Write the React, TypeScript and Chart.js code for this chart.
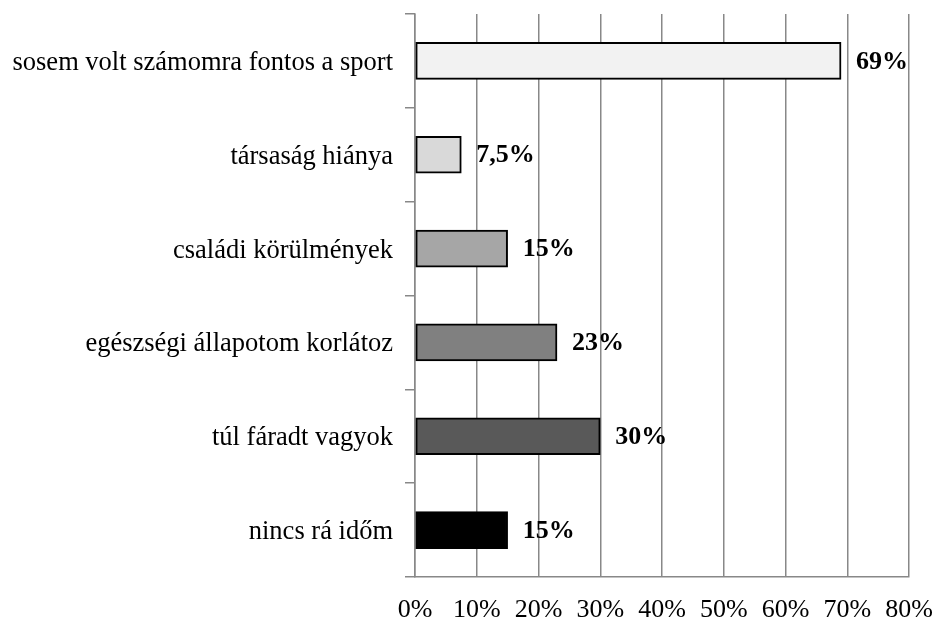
import React, { useEffect, useRef } from "react";
import { Chart, registerables } from "chart.js";

Chart.register(...registerables);

const categories = [
  "sosem volt számomra fontos a sport",
  "társaság hiánya",
  "családi körülmények",
  "egészségi állapotom korlátoz",
  "túl fáradt vagyok",
  "nincs rá időm",
];
const values = [69, 7.5, 15, 23, 30, 15];
const barColors = ["#f2f2f2", "#d9d9d9", "#a6a6a6", "#808080", "#595959", "#000000"];
const xTickStep = 10;
const xMax = 80;

const FONT = '"Liberation Serif", "Times New Roman", serif';

const valueLabelPlugin = {
  id: "valueLabels",
  afterDatasetsDraw(chart: any) {
    const ctx = chart.ctx;
    const meta = chart.getDatasetMeta(0);
    ctx.save();
    ctx.font = `bold 26px ${FONT}`;
    ctx.fillStyle = "#000";
    ctx.textAlign = "left";
    ctx.textBaseline = "middle";
    meta.data.forEach((el: any, i: number) => {
      const txt = String(values[i]).replace(".", ",") + "%";
      ctx.fillText(txt, el.x + 15, el.y + 1);
    });
    ctx.restore();
  },
};

export default function App() {
  const ref = useRef<HTMLCanvasElement>(null);
  useEffect(() => {
    document.body.style.margin = "0";
    const chart = new Chart(ref.current as HTMLCanvasElement, {
      type: "bar",
      data: {
        labels: categories,
        datasets: [
          {
            data: values,
            backgroundColor: barColors,
            borderColor: "#000",
            borderWidth: 2,
            borderSkipped: false,
            barThickness: 37,
          },
        ],
      },
      options: {
        indexAxis: "y",
        animation: false,
        responsive: false,
        maintainAspectRatio: false,
        layout: { padding: { left: 0, right: 25, top: 14, bottom: 0 } },
        plugins: { legend: { display: false }, tooltip: { enabled: false } },
        scales: {
          x: {
            min: 0,
            max: xMax,
            ticks: {
              stepSize: xTickStep,
              color: "#000",
              font: { family: FONT, size: 26 },
              padding: 18,
              callback: (v: any) => v + "%",
              maxRotation: 0,
            },
            grid: { color: "#888888", lineWidth: 1.5, drawTicks: false },
            border: { display: true, color: "#888888", width: 1.5 },
            afterFit: (s: any) => {
              s.height = 43;
              s.paddingLeft = 0;
              s.paddingRight = 0;
            },
          },
          y: {
            ticks: {
              color: "#000",
              font: { family: FONT, size: 26.5 },
              padding: 12,
              labelOffset: 2,
            },
            grid: {
              drawOnChartArea: false,
              drawTicks: true,
              tickLength: 10,
              offset: true,
              color: "#888888",
              lineWidth: 1.5,
            },
            border: { display: true, color: "#888888", width: 1.5 },
            afterFit: (s: any) => {
              s.width = 415;
              s.paddingTop = 0;
              s.paddingBottom = 0;
            },
          },
        },
      },
      plugins: [valueLabelPlugin],
    });
    return () => chart.destroy();
  }, []);
  return (
    <div style={{ width: 934, height: 620 }}>
      <canvas ref={ref} width={934} height={620} style={{ display: "block" }} />
    </div>
  );
}
